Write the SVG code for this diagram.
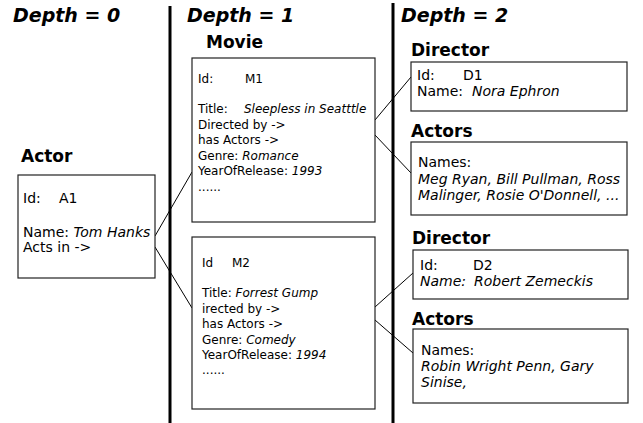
<svg xmlns="http://www.w3.org/2000/svg" width="643" height="423" viewBox="0 0 643 423">
<style>
text{font-family:"DejaVu Sans","Liberation Sans",sans-serif;fill:#000}
.h0{font-size:19px;font-weight:bold;font-style:italic}
.h1{font-size:17px;font-weight:bold}
.t12{font-size:12px}
.t14{font-size:14px}
.i{font-style:italic}
.box{fill:#fff;stroke:#222;stroke-width:1.2}
.sep{stroke:#000;stroke-width:3}
.con{stroke:#000;stroke-width:1;fill:none}
</style>
<rect width="643" height="423" fill="#fff"/>
<g id="depth-headers">
<text class="h0" x="13" y="22">Depth = 0</text>
<text class="h0" x="187" y="22">Depth = 1</text>
<text class="h0" x="401" y="22">Depth = 2</text>
<line class="sep" x1="170" y1="6" x2="170" y2="423"/>
<line class="sep" x1="393" y1="3" x2="393" y2="423"/>
</g>
<g id="connectors">
<line class="con" x1="155" y1="236" x2="192" y2="172"/>
<line class="con" x1="155" y1="247" x2="192" y2="308"/>
<line class="con" x1="375" y1="120" x2="411" y2="77"/>
<line class="con" x1="375" y1="135" x2="411" y2="173"/>
<line class="con" x1="375" y1="307" x2="413" y2="273"/>
<line class="con" x1="375" y1="320" x2="413" y2="353"/>
</g>
<g id="actor">
<text class="h1" x="21" y="162">Actor</text>
<rect class="box" x="18" y="175" width="137" height="103"/>
<text class="t14" x="23" y="203">Id:</text>
<text class="t14" x="59" y="203">A1</text>
<text class="t14" x="23" y="237">Name: <tspan class="i">Tom Hanks</tspan></text>
<text class="t14" x="23" y="252">Acts in -&gt;</text>
</g>
<g id="movie-m1">
<text class="h1" x="206" y="48">Movie</text>
<rect class="box" x="192" y="58" width="183" height="164"/>
<text class="t12" x="198" y="83">Id:</text>
<text class="t12" x="245" y="83">M1</text>
<text class="t12" x="198" y="113">Title:<tspan class="i" x="244">Sleepless in Seatttle</tspan></text>
<text class="t12" x="198" y="129">Directed by -&gt;</text>
<text class="t12" x="198" y="144">has Actors  -&gt;</text>
<text class="t12" x="198" y="160">Genre: <tspan class="i">Romance</tspan></text>
<text class="t12" x="198" y="175">YearOfRelease: <tspan class="i">1993</tspan></text>
<text class="t12" x="198" y="191">......</text>
</g>
<g id="movie-m2">
<rect class="box" x="192" y="237" width="183" height="172"/>
<text class="t12" x="202" y="267">Id</text>
<text class="t12" x="232" y="267">M2</text>
<text class="t12" x="202" y="297">Title:  <tspan class="i">Forrest Gump</tspan></text>
<text class="t12" x="202" y="313">irected by -&gt;</text>
<text class="t12" x="202" y="328">has Actors  -&gt;</text>
<text class="t12" x="202" y="344">Genre: <tspan class="i">Comedy</tspan></text>
<text class="t12" x="202" y="359">YearOfRelease: <tspan class="i">1994</tspan></text>
<text class="t12" x="202" y="374">......</text>
</g>
<g id="director-d1">
<text class="h1" x="411" y="56">Director</text>
<rect class="box" x="411" y="62" width="216" height="49"/>
<text class="t14" x="417" y="80">Id:</text>
<text class="t14" x="463" y="80">D1</text>
<text class="t14" x="417" y="96">Name:<tspan class="i" x="472">Nora Ephron</tspan></text>
</g>
<g id="actors-1">
<text class="h1" x="411" y="137">Actors</text>
<rect class="box" x="411" y="142" width="216" height="73"/>
<text class="t14" x="418" y="167">Names:</text>
<text class="t14 i" x="418" y="184">Meg Ryan, Bill Pullman, Ross</text>
<text class="t14 i" x="418" y="200">Malinger, Rosie O'Donnell, ...</text>
</g>
<g id="director-d2">
<text class="h1" x="412" y="244">Director</text>
<rect class="box" x="413" y="250" width="215" height="49"/>
<text class="t14" x="420" y="270">Id:</text>
<text class="t14" x="473" y="270">D2</text>
<text class="t14 i" x="420" y="286">Name:<tspan x="474">Robert Zemeckis</tspan></text>
</g>
<g id="actors-2">
<text class="h1" x="412" y="325">Actors</text>
<rect class="box" x="413" y="329" width="215" height="74"/>
<text class="t14" x="421" y="355">Names:</text>
<text class="t14 i" x="421" y="371">Robin Wright Penn, Gary</text>
<text class="t14 i" x="421" y="387">Sinise,</text>
</g>
</svg>
